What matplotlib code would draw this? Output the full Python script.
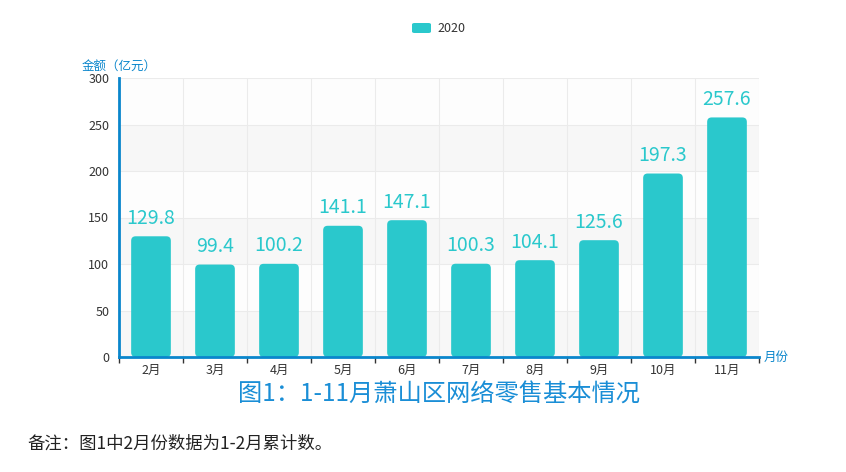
import matplotlib
matplotlib.use("Agg")
import matplotlib.pyplot as plt
from matplotlib.patches import FancyBboxPatch
import numpy as np

plt.rcParams['font.family'] = ['Noto Sans CJK SC', 'DejaVu Sans']

categories = ["2月", "3月", "4月", "5月", "6月", "7月", "8月", "9月", "10月", "11月"]
values = [129.8, 99.4, 100.2, 141.1, 147.1, 100.3, 104.1, 125.6, 197.3, 257.6]
series_name = "2020"
yticks = [0, 50, 100, 150, 200, 250, 300]

bar_color = "#2ac8cc"
axis_color = "#0a86cc"
title_color = "#1a8ed6"

W, H = 846, 472
fig = plt.figure(figsize=(W / 100, H / 100), dpi=100)
L, R, T, B = 119, 759, 78, 357
ax = fig.add_axes([L / W, 1 - B / H, (R - L) / W, (B - T) / H])

n = len(categories)
x = np.arange(n)
ax.set_xlim(-0.5, n - 0.5)
ax.set_ylim(0, 300)

# alternating background bands
for i in range(len(yticks) - 1):
    c = "#f7f7f7" if i % 2 == 0 else "#fdfdfd"
    ax.axhspan(yticks[i], yticks[i + 1], color=c, zorder=0, lw=0)

# grid
for yt in yticks[1:]:
    ax.axhline(yt, color="#ebebeb", lw=0.8, zorder=0.5)
for b in np.arange(-0.5, n, 1.0)[1:]:
    ax.axvline(b, color="#ebebeb", lw=0.8, zorder=0.5)

bars = ax.bar(x, values, width=0.62, color=bar_color, zorder=2)
px_x = n / (R - L)          # data x units per px
px_y = 300 / (B - T)        # data y units per px
aspect = px_y / px_x
for rect in bars:
    bx, by = rect.get_x(), rect.get_y()
    bw, bh = rect.get_width(), rect.get_height()
    rect.set_visible(False)
    p = FancyBboxPatch((bx, by), bw, bh,
                       boxstyle="round,pad=0,rounding_size=%f" % (4.5 * px_x),
                       mutation_aspect=aspect, facecolor=bar_color,
                       edgecolor="none", zorder=2)
    ax.add_patch(p)

for xi, v in zip(x, values):
    ax.annotate(f"{v:.1f}", (xi, v), xytext=(0, 5.5), textcoords="offset points",
                ha="center", va="bottom", fontsize=14, color=bar_color,
                family=["Noto Sans CJK SC", "DejaVu Sans"])

for s in ["top", "right"]:
    ax.spines[s].set_visible(False)
for s in ["left", "bottom"]:
    ax.spines[s].set_color(axis_color)
    ax.spines[s].set_linewidth(2)

ax.set_yticks(yticks)
ax.set_yticklabels([str(t) for t in yticks])
ax.tick_params(axis="y", length=0, pad=7, labelsize=9, labelcolor="#333333")
ax.set_xticks(np.arange(-0.5, n, 1.0), minor=False)
ax.set_xticklabels([])
ax.tick_params(axis="x", which="major", length=4, width=1, color="#333333", direction="out")
ax.set_xticks(x, minor=True)
ax.set_xticklabels(categories, minor=True)
ax.tick_params(axis="x", which="minor", length=0, pad=5, labelsize=9, labelcolor="#333333")

fig.text(82 / W, 1 - 66 / H, "金额（亿元）", fontsize=9, color=axis_color, ha="left", va="center")
fig.text(764 / W, 1 - 357 / H, "月份", fontsize=9, color=axis_color, ha="left", va="center")

# legend
fig.patches.append(FancyBboxPatch((412 / W, 1 - 33 / H), 19 / W, 10 / H,
                                  boxstyle="round,pad=0,rounding_size=0.003",
                                  transform=fig.transFigure, facecolor=bar_color,
                                  edgecolor="none"))
fig.text(437 / W, 1 - 28 / H, series_name, fontsize=9, color="#333333", ha="left", va="center")

fig.text(439 / W, 1 - 395 / H, "图1：1-11月萧山区网络零售基本情况", fontsize=17.5,
         color=title_color, ha="center", va="center")
fig.text(27 / W, 1 - 444 / H, "备注：图1中2月份数据为1-2月累计数。", fontsize=12.5,
         color="#222222", ha="left", va="center")

fig.savefig("out.png", dpi=100)
